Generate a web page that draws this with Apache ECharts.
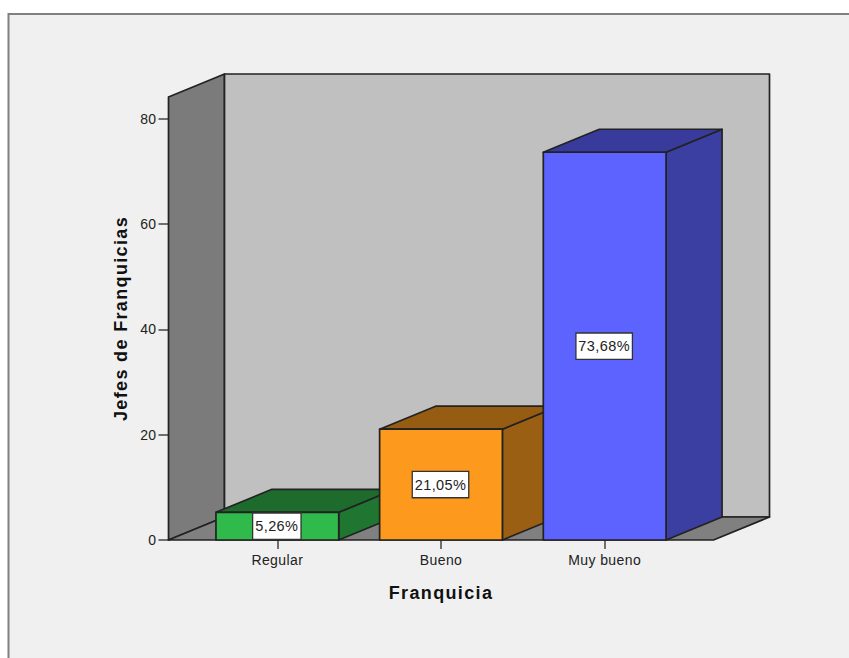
<!DOCTYPE html>
<html>
<head>
<meta charset="utf-8">
<style>
  html, body { margin: 0; padding: 0; background: #fff; }
  #chart { width: 849px; height: 658px; }
  #chart text { letter-spacing: 0.4px; }
  #chart text[style*="bold"] { letter-spacing: 1.35px; }
</style>
<script src="https://cdn.jsdelivr.net/npm/echarts@6/dist/echarts.min.js"></script>
</head>
<body>
<div id="chart"></div>
<script>
// Percentage of respondents per rating
const categories = ['Regular', 'Bueno', 'Muy bueno'];
const percentages = [5.26, 21.05, 73.68];
const yTicks = [0, 20, 40, 60, 80];
const wallTop = [84.18];

const faceColors = ['#2fba4b', '#fd9a1e', '#5c63ff'];
const sideColors = ['#1f7631', '#9a5f13', '#3a3fa1'];
const topColors  = ['#1e6c2d', '#965c12', '#393b9c'];

// Oblique projection of the depth axis, and how far the floor runs past the category axis
const DEPTH_X = 56;
const DEPTH_Y = 23;
const FLOOR_PAD = 27;
const EDGE = '#222';

const poly = (points, fill) => ({
  type: 'polygon',
  shape: { points },
  style: { fill, stroke: EDGE, lineWidth: 1.7, lineJoin: 'round' }
});
const back = ([x, y]) => [x + DEPTH_X, y - DEPTH_Y];

function renderWalls(params, api) {
  const cs = params.coordSys;
  const base = api.coord([0, 0])[1];
  const top = api.coord([0, api.value(1)])[1];
  const left = cs.x - FLOOR_PAD;
  const right = cs.x + cs.width + FLOOR_PAD;
  const fl = [left, base], fr = [right, base], tl = [left, top], tr = [right, top];
  return {
    type: 'group',
    children: [
      poly([fl, back(fl), back(tl), tl], '#7b7b7b'),
      poly([back(fl), back(fr), back(tr), back(tl)], '#c0c0c0'),
      poly([fl, fr, back(fr), back(fl)], '#808080')
    ]
  };
}

function renderBar(params, api) {
  const i = params.dataIndex;
  const [cx, yTop] = api.coord([api.value(0), api.value(1)]);
  const yBase = api.coord([api.value(0), 0])[1];
  const w = api.size([1, 0])[0] * 0.75;
  const fl = [cx - w / 2, yBase], fr = [cx + w / 2, yBase];
  const tl = [cx - w / 2, yTop], tr = [cx + w / 2, yTop];
  const caption = api.value(1).toFixed(2).replace('.', ',') + '%';
  return {
    type: 'group',
    children: [
      poly([fr, back(fr), back(tr), tr], sideColors[i]),
      poly([tl, tr, back(tr), back(tl)], topColors[i]),
      poly([fl, fr, tr, tl], faceColors[i]),
      {
        type: 'text',
        style: {
          text: caption,
          x: cx - 0.5,
          y: (yTop + yBase) / 2,
          align: 'center',
          verticalAlign: 'middle',
          font: '14.5px "Liberation Sans"',
          fill: '#222',
          backgroundColor: '#fff',
          borderColor: '#333',
          borderWidth: 1.3,
          padding: [5, 3, 5, 3]
        }
      }
    ]
  };
}

const chart = echarts.init(document.getElementById('chart'), null, { renderer: 'svg' });
chart.setOption({
  backgroundColor: '#fff',
  animation: false,
  textStyle: { fontFamily: '"Liberation Sans"' },
  graphic: [{
    type: 'rect',
    z: -1,
    silent: true,
    shape: { x: 8.5, y: 14, width: 900, height: 700 },
    style: { fill: '#f0f0f0', stroke: '#808080', lineWidth: 2 }
  }],
  grid: { left: 195.5, top: 97, width: 491, height: 443 },
  xAxis: {
    type: 'category',
    data: categories,
    name: 'Franquicia',
    nameLocation: 'middle',
    nameGap: 44,
    nameTextStyle: { fontSize: 18, fontWeight: 'bold', color: '#111' },
    axisLine: { show: false },
    axisTick: { show: true, alignWithLabel: true, length: 9, lineStyle: { color: '#444', width: 1.5 } },
    axisLabel: { fontSize: 14, color: '#222', margin: 13 },
    splitLine: { show: false }
  },
  yAxis: {
    type: 'value',
    min: 0,
    max: wallTop[0],
    interval: 20,
    offset: FLOOR_PAD,
    name: 'Jefes de Franquicias',
    nameLocation: 'middle',
    nameGap: 39,
    nameTextStyle: { fontSize: 18, fontWeight: 'bold', color: '#111' },
    axisLine: { show: true, lineStyle: { color: EDGE, width: 1.5 } },
    axisTick: { show: true, length: 10, customValues: yTicks, lineStyle: { color: '#444', width: 1.5 } },
    axisLabel: { fontSize: 14, color: '#222', margin: 12, customValues: yTicks },
    splitLine: { show: false }
  },
  series: [
    {
      type: 'custom',
      name: 'Paredes',
      renderItem: renderWalls,
      data: [[categories[0], wallTop[0]]],
      encode: { x: 0, y: 1 },
      silent: true,
      z: 1
    },
    {
      type: 'custom',
      name: 'Franquicia',
      renderItem: renderBar,
      data: categories.map((c, i) => [c, percentages[i]]),
      encode: { x: 0, y: 1 },
      z: 2
    }
  ]
});
</script>
</body>
</html>
